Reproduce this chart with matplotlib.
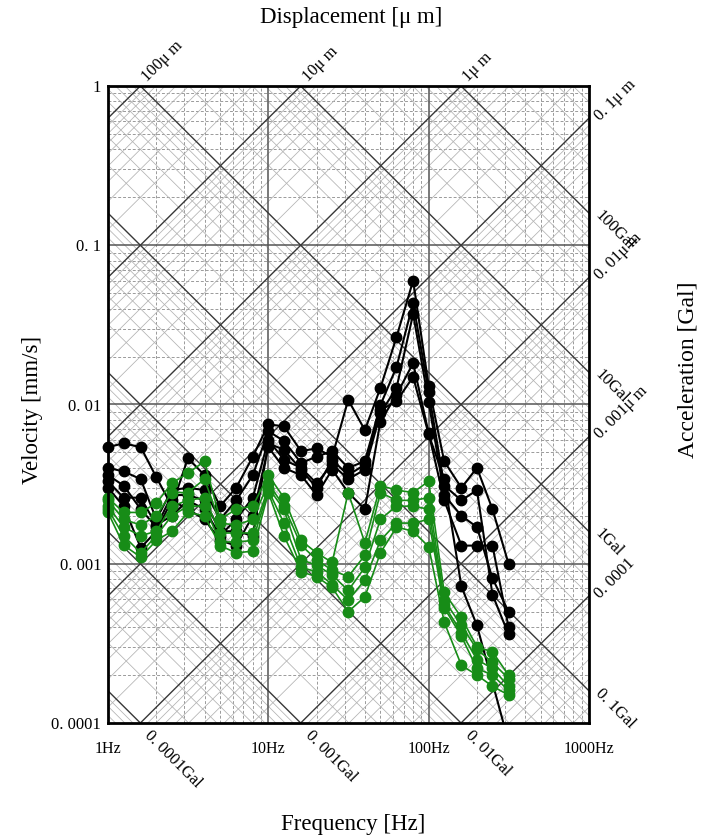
import numpy as np
import matplotlib
matplotlib.use('Agg')
import matplotlib.pyplot as plt

plt.rcParams['font.family'] = ['Liberation Serif', 'DejaVu Serif']

# 1/3-octave band centre frequencies [Hz]
freqs = [1, 1.25, 1.6, 2, 2.5, 3.15, 4, 5, 6.3, 8, 10, 12.5, 16, 20, 25, 31.5,
         40, 50, 63, 80, 100, 125, 160, 200, 250, 315]

nan = float('nan')
# velocity [mm/s], black series
black_1 = [0.0054, 0.0057, 0.0054, 0.0035, 0.0023, 0.0046, 0.0036, 0.0023, 0.0030, 0.0047,
           0.0075, 0.0073, 0.0051, 0.0053, 0.0047, 0.0107, 0.0069, 0.0127, 0.0265, 0.060,
           0.0131, 0.0044, 0.0030, 0.0040, 0.0022, 0.0010]
black_2 = [0.0040, 0.0038, 0.0034, 0.0019, 0.0029, 0.0030, 0.0029, 0.0019, 0.0025, 0.0036,
           0.0068, 0.0059, 0.0043, 0.0047, 0.0051, 0.0040, 0.0044, 0.0099, 0.0172, 0.0435,
           0.0120, 0.0031, 0.0025, 0.0029, 0.00064, 0.00036]
black_3 = [0.0033, 0.0026, 0.0026, 0.00175, 0.0020, 0.0025, 0.0022, 0.0015, 0.0019, 0.0026,
           0.0060, 0.0045, 0.0040, 0.0032, 0.0042, 0.0034, 0.0039, 0.0088, 0.0127, 0.037,
           0.0104, 0.0027, 0.0020, 0.0017, 0.00081, 0.0005]
black_4 = [0.0030, 0.0023, 0.00126, 0.0016, 0.0025, 0.0022, 0.0019, 0.0014, 0.0013, 0.0020,
           0.0054, 0.0040, 0.0036, 0.0027, 0.0039, 0.0028, 0.0022, 0.0078, 0.0115, 0.0182,
           0.0066, 0.0025, 0.0013, 0.0013, 0.0013, 0.0004]
black_5 = [0.0036, 0.0031, 0.0022, 0.0017, 0.0027, 0.0027, 0.0025, 0.0016, 0.0016, 0.0015,
           0.0057, 0.0052, 0.0039, 0.0030, 0.0045, 0.0036, 0.0042, 0.0092, 0.0105, 0.0149,
           0.0065, 0.0034, 0.00072, 0.00041, nan, 0.000076]

# velocity [mm/s], green series
green_1 = [0.0026, 0.0021, 0.0021, 0.0024, 0.0032, 0.0037, 0.0044, 0.0019, 0.0022, 0.0023,
           0.0036, 0.0026, 0.0014, 0.00117, 0.00102, 0.0028, 0.00135, 0.0031, 0.0029, 0.0028,
           0.0033, 0.00066, 0.00046, 0.00030, 0.00028, 0.00020]
green_2 = [0.0025, 0.0019, 0.00175, 0.0020, 0.0028, 0.0028, 0.0034, 0.0018, 0.00175, 0.0019,
           0.0032, 0.0023, 0.00131, 0.00106, 0.00091, 0.00083, 0.00113, 0.0028, 0.0025, 0.0025,
           0.0026, 0.00059, 0.00041, 0.00029, 0.00024, 0.00019]
green_3 = [0.0023, 0.0017, 0.0015, 0.0016, 0.0023, 0.0025, 0.0026, 0.00156, 0.00156, 0.00156,
           0.0030, 0.0022, 0.00106, 0.00098, 0.00085, 0.00068, 0.00095, 0.0019, 0.0023, 0.0023,
           0.0022, 0.00055, 0.00037, 0.00025, 0.00022, 0.00017]
green_4 = [0.0022, 0.0015, 0.00117, 0.0015, 0.0020, 0.0023, 0.0023, 0.00137, 0.00137, 0.0014,
           0.0029, 0.0018, 0.00095, 0.00089, 0.00074, 0.00059, 0.00079, 0.0014, 0.0018, 0.0018,
           0.0019, 0.00053, 0.00035, 0.00022, 0.00020, 0.00016]
green_5 = [0.0021, 0.00131, 0.0011, 0.0014, 0.0016, 0.0021, 0.0020, 0.0013, 0.00117, 0.0012,
           0.0028, 0.0015, 0.00089, 0.00083, 0.00071, 0.0005, 0.00062, 0.00117, 0.0017, 0.0016,
           0.00128, 0.00043, 0.00023, 0.00020, 0.00017, 0.00015]

black_series = [black_1, black_2, black_3, black_4, black_5]
green_series = [green_1, green_2, green_3, green_4, green_5]

y_ticks = [0.0001, 0.001, 0.01, 0.1, 1]
y_tick_labels = ['0. 0001', '0. 001', '0. 01', '0. 1', '1']
x_ticks = [1, 10, 100, 1000]
x_tick_labels = ['1Hz', '10Hz', '100Hz', '1000Hz']

disp_top_values = [100, 10, 1]
disp_top_labels = ['100μ m', '10μ m', '1μ m']
disp_right_values = [0.1, 0.01, 0.001, 0.0001]
disp_right_labels = ['0. 1μ m', '0. 01μ m', '0. 001μ m', '0. 0001']
acc_right_values = [100, 10, 1, 0.1]
acc_right_labels = ['100Gal', '10Gal', '1Gal', '0. 1Gal']
acc_bottom_values = [0.0001, 0.001, 0.01]
acc_bottom_labels = ['0. 0001Gal', '0. 001Gal', '0. 01Gal']

FMIN, FMAX, VMIN, VMAX = 1, 1000, 1e-4, 1


def v_from_disp(f, d_um):
    return 2 * np.pi * np.asarray(f) * d_um / 1000.0


def v_from_acc(f, a_gal):
    return 10.0 * a_gal / (2 * np.pi * np.asarray(f))


fig = plt.figure(figsize=(7.04, 8.38), dpi=100)
ax = fig.add_axes([108 / 704, 1 - 723 / 838, 481 / 704, 637 / 838])
ax.set_xscale('log')
ax.set_yscale('log')
ax.set_xlim(FMIN, FMAX)
ax.set_ylim(VMIN, VMAX)

# rectangular grid
for k in range(0, 3):
    for m in range(2, 10):
        ax.axvline(m * 10 ** k, color='#9a9a9a', lw=0.7, ls=(0, (3, 2)), zorder=1)
for k in range(-4, 0):
    for m in range(2, 10):
        ax.axhline(m * 10.0 ** k, color='#9a9a9a', lw=0.7, ls=(0, (3, 2)), zorder=1)
for f in [10, 100]:
    ax.axvline(f, color='#555555', lw=1.1, zorder=1.5)
for v in [1e-3, 1e-2, 1e-1]:
    ax.axhline(v, color='#555555', lw=1.1, zorder=1.5)

# diagonal grid (displacement / acceleration)
fline = np.array([FMIN, FMAX])
for k in range(-6, 4):
    for m in range(1, 10):
        val = m * 10.0 ** k
        major = (m == 1)
        col = '#383838' if major else '#b2b2b2'
        lw = 1.0 if major else 0.55
        z = 1.6 if major else 1.2
        ax.plot(fline, v_from_disp(fline, val), color=col, lw=lw, zorder=z)
        ax.plot(fline, v_from_acc(fline, val), color=col, lw=lw, zorder=z)

# data: lines clipped to the frame, markers allowed to overhang the frame
fr = np.array(freqs)


def draw(series, color, lw, z):
    for s in series:
        s = np.array(s)
        ok = np.isfinite(s)
        ax.plot(fr[ok], s[ok], color=color, lw=lw, zorder=z)
        inside = ok & (s >= VMIN) & (s <= VMAX)
        ax.plot(fr[inside], s[inside], ls='none', marker='o', ms=7.5, color=color,
                zorder=z + 0.1, clip_on=False)


draw(black_series, 'black', 1.5, 3)
draw(green_series, '#178c17', 1.2, 4)

for sp in ax.spines.values():
    sp.set_linewidth(2.0)
    sp.set_zorder(5)

ax.set_xticks(x_ticks)
ax.set_xticklabels(x_tick_labels, fontsize=11.5)
ax.set_yticks(y_ticks)
ax.set_yticklabels(y_tick_labels, fontsize=12)
ax.minorticks_off()
ax.tick_params(axis='both', length=0)
ax.tick_params(axis='x', pad=13)
ax.tick_params(axis='y', pad=5)

lab_kw = dict(fontsize=12, rotation_mode='anchor', annotation_clip=False,
              textcoords='offset points')
for d, t in zip(disp_top_values, disp_top_labels):
    f0 = 1000.0 / (2 * np.pi * d)
    ax.annotate(t, (f0, VMAX), xytext=(3, 5), rotation=45, ha='left', va='center', **lab_kw)
for d, t in zip(disp_right_values, disp_right_labels):
    ax.annotate(t, (FMAX, v_from_disp(FMAX, d)), xytext=(6, 0), rotation=45,
                ha='left', va='center', **lab_kw)
for a, t in zip(acc_right_values, acc_right_labels):
    ax.annotate(t, (FMAX, v_from_acc(FMAX, a)), xytext=(6, 0), rotation=-45,
                ha='left', va='center', **lab_kw)
for a, t in zip(acc_bottom_values, acc_bottom_labels):
    f0 = 10.0 * a / (2 * np.pi * VMIN)
    ax.annotate(t, (f0, VMIN), xytext=(5, -7), rotation=-45, ha='left', va='center', **lab_kw)

fig.text(351 / 704, 1 - 17 / 838, 'Displacement [μ m]', ha='center', va='center', fontsize=16.5)
fig.text(353 / 704, 1 - 824 / 838, 'Frequency [Hz]', ha='center', va='center', fontsize=16.5)
fig.text(33 / 704, 1 - 410 / 838, 'Velocity [mm/s]', ha='center', va='center',
         rotation=90, fontsize=16.5)
fig.text(688 / 704, 1 - 370 / 838, 'Acceleration [Gal]', ha='center', va='center',
         rotation=90, fontsize=17)

fig.savefig('out.png', dpi=100)
